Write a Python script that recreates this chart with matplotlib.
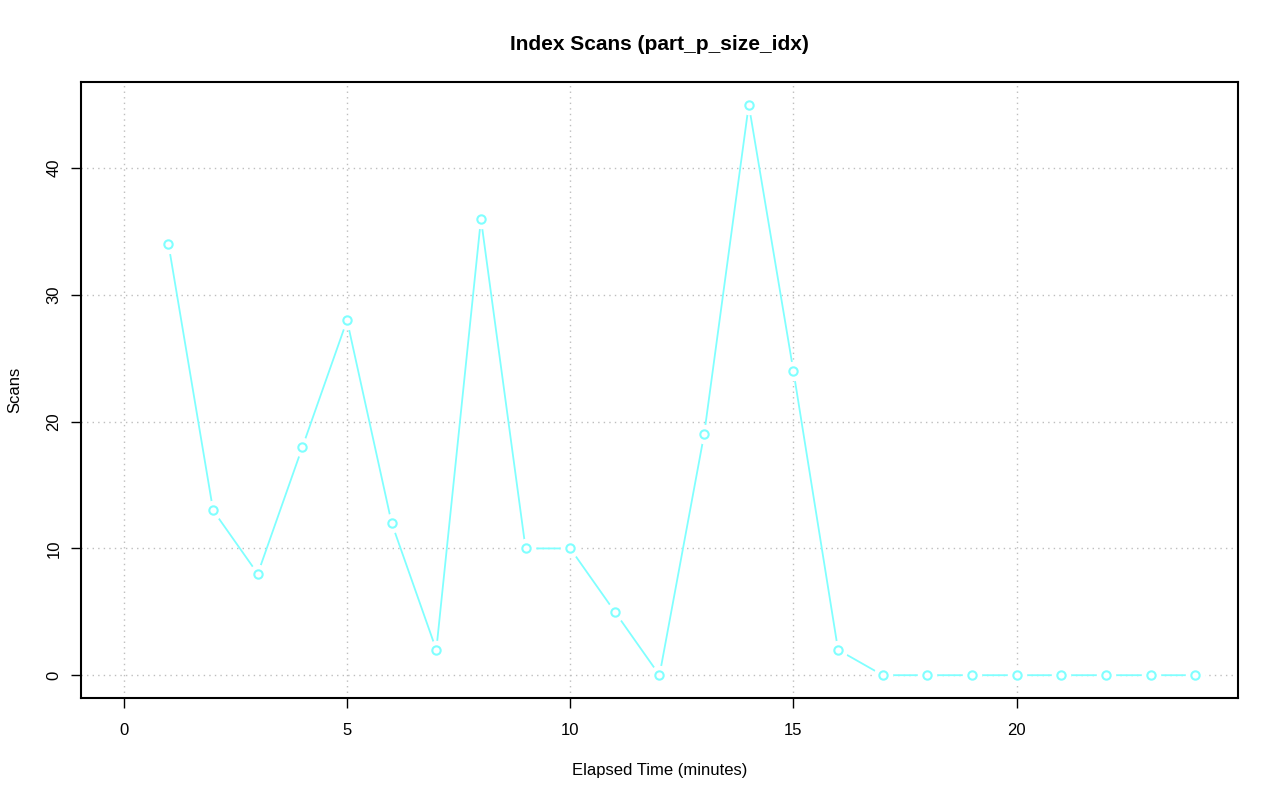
"""Index scans over elapsed time, R-style base plot."""

import matplotlib
matplotlib.use("Agg")
import matplotlib.pyplot as plt

plt.rcParams["font.family"] = ["Liberation Sans", "DejaVu Sans"]

minutes = list(range(1, 25))
scans = [34, 13, 8, 18, 28, 12, 2, 36, 10, 10, 5, 0,
         19, 45, 24, 2, 0, 0, 0, 0, 0, 0, 0, 0]
x_ticks = [0, 5, 10, 15, 20]
y_ticks = [0, 10, 20, 30, 40]

COLOR = "#80FFFF"

fig = plt.figure(figsize=(12.8, 8.01), dpi=100)
ax = fig.add_axes([81 / 1280, 103 / 801, 1157 / 1280, 616 / 801])

# data range 0..24 / 0..45 with R's 4% padding
ax.set_xlim(-0.96, 24.96)
ax.set_ylim(-1.8, 46.8)

for t in x_ticks:
    ax.axvline(t, color="#BEBEBE", lw=1.0, ls=(0, (1, 3)), zorder=1)
for t in y_ticks:
    ax.axhline(t, color="#BEBEBE", lw=1.0, ls=(0, (1, 3)), zorder=1)

# type = "b": line with gaps around the points
ax.plot(minutes, scans, color=COLOR, lw=1.3, zorder=2)
ax.plot(minutes, scans, ls="none", marker="o", ms=13, mfc="white",
        mec="white", zorder=3)
ax.plot(minutes, scans, ls="none", marker="o", ms=6, mfc="white",
        mec=COLOR, mew=1.5, zorder=4)

ax.set_xticks(x_ticks)
ax.set_yticks(y_ticks)
ax.tick_params(direction="out", length=7.2, width=1, labelsize=12)
ax.tick_params(axis="x", pad=11)
ax.tick_params(axis="y", pad=7)
for lab in ax.get_yticklabels():
    lab.set_rotation(90)
    lab.set_va("center")
for s in ax.spines.values():
    s.set_linewidth(1.5)

ax.set_xlabel("Elapsed Time (minutes)", fontsize=12)
ax.set_ylabel("Scans", fontsize=12)
ax.xaxis.set_label_coords(0.5, -0.105)
ax.yaxis.set_label_coords(-0.051, 0.5)
# title is centred over the plot region, as in R
fig.text(659.5 / 1280, 1 - 44 / 801, "Index Scans (part_p_size_idx)",
         fontsize=15, fontweight="bold", ha="center", va="center")

fig.savefig("out.png", dpi=100)
